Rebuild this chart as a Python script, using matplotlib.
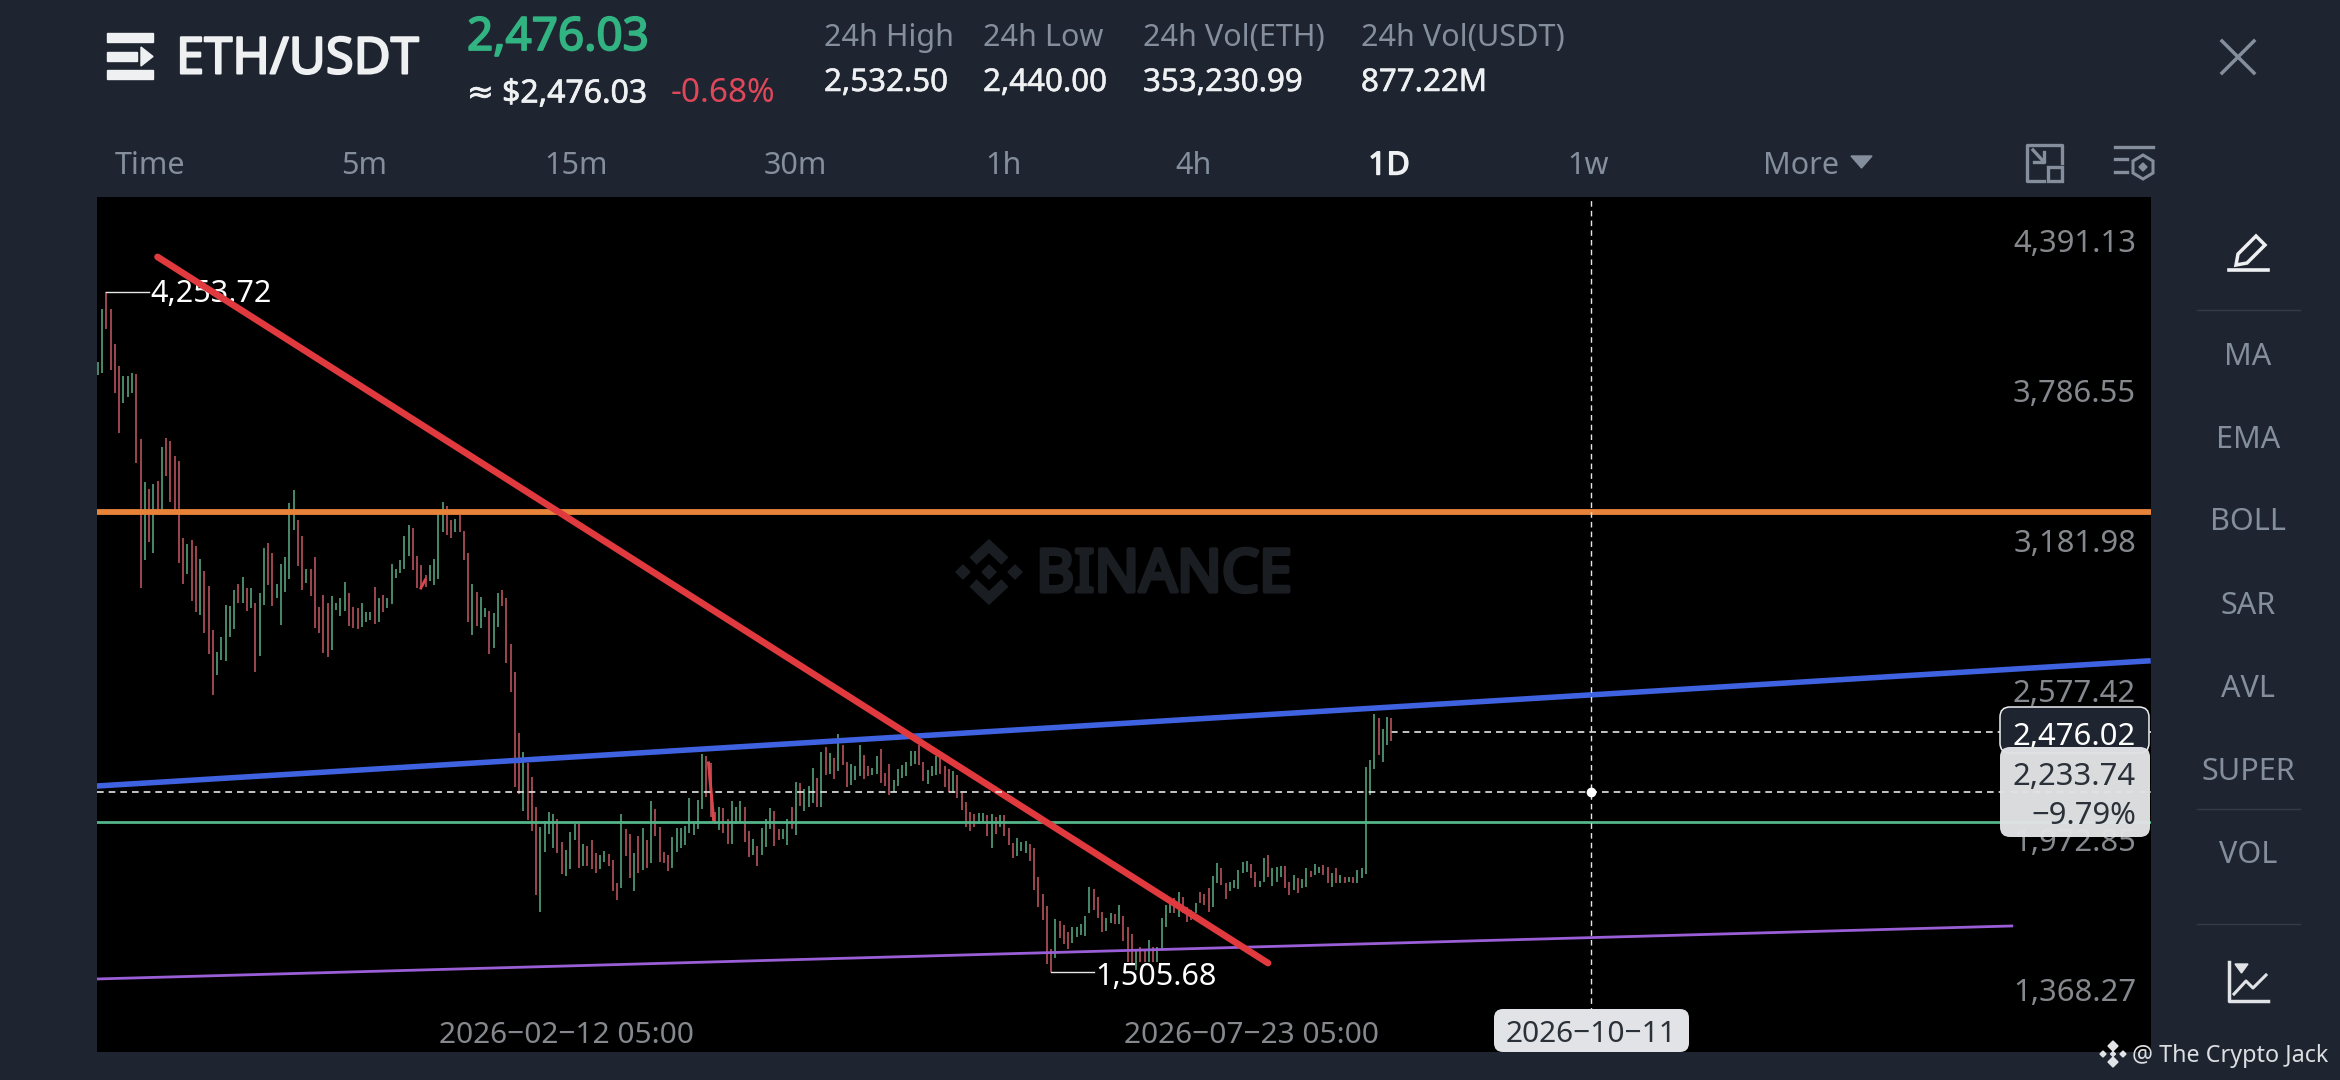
import datetime as dt
import numpy as np
import matplotlib
matplotlib.use("Agg")
import matplotlib.pyplot as plt
import matplotlib.dates as mdates
import matplotlib.patheffects as pe
from matplotlib.patches import FancyBboxPatch, Polygon, Rectangle

plt.rcParams['font.family'] = ['Noto Sans', 'DejaVu Sans']

# ---------- data ----------
first_bar_date = dt.datetime(2025, 10, 25, 5)
bar_high = [
 3971,4183,4253.72,4182,4041,3953,3913,3913,3924,3920,
 3657,3484,3459,3476,3490,3628,3661,3652,3591,3570,
 3258,3235,3251,3227,3173,3127,3065,2888,2800,2861,
 2988,2986,3049,3072,3100,3056,3056,2998,3036,3217,
 3240,3197,3072,3154,3184,3402,3453,3332,3268,3136,
 3136,3181,2982,3029,2998,3025,2995,3015,3083,3038,
 2982,2978,2998,2962,2962,3060,3015,3029,3015,3154,
 3136,3170,3267,3311,3298,3186,3150,3110,3150,3173,
 3359,3406,3388,3332,3334,3352,3287,3200,3072,3042,
 3022,2975,2966,2955,3038,3049,3015,2831,2717,
 2474,2396,2349,2295,2172,2094,2118,2153,2147,2123,
 2030,1999,2072,2104,2103,2022,2016,2040,1986,1979,
 1995,1982,1959,1868,2147,2083,2064,1986,2056,2090,
 2040,2199,2164,2094,1993,1979,2053,2087,2087,2096,
 2208,2107,2201,2386,2379,2349,2154,2174,2168,2123,
 2199,2174,2197,2172,2077,2045,2017,2087,2123,2168,
 2158,2083,2083,2123,2174,2273,2269,2244,2258,2329,
 2289,2396,2417,2390,2370,2466,2423,2356,2345,2339,
 2423,2383,2339,2329,2380,2406,2312,2345,2282,2325,
 2343,2356,2399,2400,2423,2353,2322,2339,2379,2372,
 2339,2325,2320,2302,2228,2195,2154,2147,2150,2150,
 2141,2147,2134,2141,
 2141,2087,2029,2047,2030,2036,2022,2006,1892,1822,
 1773,1600,1720,1714,1697,1667,1690,1690,1701,1733,
 1849,1841,1811,1750,1724,1744,1740,1777,1734,1690,
 1659,1602,1609,1596,1636,1609,1609,1724,1777,1795,
 1804,1831,1811,1771,1757,1784,1831,1824,1845,1896,
 1946,1928,1868,1869,1878,1919,1952,1955,1943,1909,
 1876,1968,1979,1929,1932,1936,1936,1872,1899,1888,
 1882,1925,1916,1943,1932,1940,1932,1905,1925,1899,
 1892,1892,1892,1919,1925,2336,2363,2548,2531,2487,
 2535,2532.5]
bar_low = [
 3917,3924,4101,3937,3846,3684,3803,3830,3843,3563,
 3058,3170,3244,3197,3372,3372,3509,3406,3372,3157,
 3073,3112,3006,2962,2948,2877,2791,2625,2706,2766,
 2764,2861,2890,2995,2995,2966,2978,2719,2783,2988,
 3069,2984,3015,2908,3042,3092,3291,3146,3049,3079,
 3025,2894,2877,2793,2777,2809,2968,2945,2966,2904,
 2894,2890,2898,2921,2928,2914,2921,2962,2975,2992,
 3096,3119,3136,3186,3130,3056,3052,3062,3087,3069,
 3092,3285,3271,3258,3285,3285,3170,2921,2867,2904,
 2894,2941,2789,2814,2901,2984,2756,2639,2252,
 2224,2158,2121,2076,1818,1748,1993,2064,2006,1989,
 1903,1896,1923,2040,1928,1935,1936,1921,1908,1921,
 1952,1935,1835,1798,1847,1977,1885,1834,1908,1919,
 1928,1946,2056,1950,1948,1915,1928,1990,2009,2018,
 2069,2060,2083,2165,2215,2134,2104,2080,2067,2024,
 2024,2104,2114,2033,1970,1979,1936,1979,2013,2083,
 2017,2040,2043,2020,2083,2060,2177,2158,2174,2188,
 2174,2174,2302,2306,2285,2318,2343,2252,2262,2282,
 2298,2285,2298,2302,2306,2269,2258,2221,2235,2258,
 2291,2298,2339,2347,2343,2279,2266,2298,2302,2305,
 2255,2235,2231,2208,2161,2091,2077,2094,2104,2107,
 2057,2009,2063,2094,
 2056,2020,1966,1975,1997,1989,1955,1838,1768,1717,
 1538,1505.68,1562,1643,1619,1598,1623,1647,1655,1652,
 1744,1757,1724,1670,1674,1703,1701,1701,1633,1549,
 1542,1515,1549,1549,1549,1549,1549,1596,1690,1744,
 1744,1730,1744,1710,1717,1744,1784,1777,1750,1771,
 1865,1858,1800,1835,1845,1841,1908,1912,1885,1849,
 1849,1872,1892,1854,1872,1892,1845,1818,1838,1827,
 1845,1849,1889,1899,1908,1899,1868,1851,1865,1865,
 1865,1872,1868,1868,1885,1903,2221,2325,2383,2356,
 2423,2440]
bar_dir = (
 "GGRRRRGGGR" "RGRGRGRRRR" "RGRRGRRRGG" "GGGRGRGRGG" "RRGGGGGRRG"
 "RRRRRGGGGR" "RRGGGRGRGG" "GGGGRRRRGG" "GGRRGRRRGR" "GGRGGRRRR"
 "RGRRRGGGGR" "RGGGRGRRRG" "GRRRGRRGRG" "RGRRRRGGGG" "GGGGRRRGRR"
 "GGGRRGRGGG" "RRGGRGRGGG" "RGRGRGRRGG" "GRRGGRRRGG" "GGGGRRGGGR"
 "RRGRRRRRGG" "RGRG"
 "RRRGGGRRRR" "RRGRRRGGGG" "GRRRGGRGRR" "RGRRGRGGGG" "RGRRRGRRRG"
 "GRRGGGGGRR" "GGRGGGRRGR" "GGRGGRRGRG" "RGRGGGGGRG" "GR")

price_ticks = [4391.13, 3786.55, 3181.98, 2577.42, 1972.85, 1368.27]
date_ticks = [dt.datetime(2026, 2, 12, 5), dt.datetime(2026, 7, 23, 5)]
crosshair_date = dt.datetime(2026, 10, 11, 5)
crosshair_price = 2233.74
last_price = 2476.02
orange_level = 3364
green_level = 2112.6

red_dates = [dt.datetime(2025, 11, 8, 5), dt.datetime(2026, 7, 27, 5)]
red_prices = [4394, 1543]
blue_dates = [dt.datetime(2025, 10, 25), dt.datetime(2027, 2, 19)]
blue_prices = [2258, 2763]
purple_dates = [dt.datetime(2025, 10, 25), dt.datetime(2027, 1, 18)]
purple_prices = [1479, 1693]
stroke1_idx, stroke1_prices = [143.5, 144.7], [2351, 2121]
stroke2_idx, stroke2_prices = [75.9, 76.9], [3057, 3090]

header_stats = [("24h High", "2,532.50", 824), ("24h Low", "2,440.00", 983),
                ("24h Vol(ETH)", "353,230.99", 1143), ("24h Vol(USDT)", "877.22M", 1361)]
timeframes = [("5m", 364), ("15m", 576), ("30m", 795), ("1h", 1003), ("4h", 1194), ("1w", 1588)]
indicators = [("MA", 354), ("EMA", 437), ("BOLL", 519), ("SAR", 603), ("AVL", 686), ("SUPER", 769), ("VOL", 852)]

# ---------- colours ----------
BG = "#1e2530"; GREY = "#848e9c"; AXGREY = "#85888d"; WHITE = "#eef0f2"
UP = "#5aa883"; DOWN = "#bf5660"; LIGHT = "#e1e3e6"; DARK = "#2b3139"

def heavy(color, w=0.7):
    return [pe.withStroke(linewidth=w, foreground=color)]

W, H = 2340, 1080
fig = plt.figure(figsize=(W / 100, H / 100), dpi=100, facecolor=BG)

# ---------- chart ----------
L, R, T, B = 97, 2151, 197, 1052
ax = fig.add_axes([L / W, 1 - B / H, (R - L) / W, (B - T) / H], facecolor="black")
for s in ax.spines.values():
    s.set_visible(False)
ax.set_xticks([]); ax.set_yticks([])

x0 = mdates.date2num(first_bar_date)
xs = x0 + np.arange(len(bar_high))
ref = mdates.date2num(date_ticks[0])
ax.set_xlim(ref + (L - 566) / 4.255, ref + (R - 566) / 4.255)
ax.set_ylim(2476.02 - (B - 732) * 4.037, 2476.02 + (732 - T) * 4.037)

colors = [UP if c == "G" else DOWN for c in bar_dir]
ax.vlines(xs, bar_low, bar_high, colors=colors, linewidth=1.15, zorder=3)

ax.plot(x0 + np.array(stroke1_idx), stroke1_prices, color="#d9474c", lw=2.2, zorder=4)
ax.plot(x0 + np.array(stroke2_idx), stroke2_prices, color="#d9474c", lw=2.0, zorder=4)

# callouts
hi_i, lo_i = int(np.argmax(bar_high)), int(np.argmin(bar_low))
ax.plot([xs[hi_i], xs[hi_i] + 9.9], [bar_high[hi_i]] * 2, color="#e6e6e6", lw=1, zorder=4)
ax.annotate("4,253.72", (xs[hi_i] + 9.9, bar_high[hi_i]), xytext=(1, -1.5), textcoords="offset points",
            color="white", fontsize=22, va="center", ha="left", zorder=4)
ax.plot([xs[lo_i], xs[lo_i] + 10.1], [bar_low[lo_i]] * 2, color="#e6e6e6", lw=1, zorder=4)
ax.annotate("1,505.68", (xs[lo_i] + 10.1, bar_low[lo_i]), xytext=(1, -3), textcoords="offset points",
            color="white", fontsize=22, va="center", ha="left", zorder=4)

# levels and trend lines
ax.axhline(green_level, color="#55b58a", lw=2.0, zorder=5)
ax.axhline(orange_level, color="#e8833a", lw=4.2, zorder=5)
ax.plot(mdates.date2num(purple_dates), purple_prices, color="#9a5fd6", lw=2.0, zorder=5)
ax.plot(mdates.date2num(blue_dates), blue_prices, color="#3f62e0", lw=4.0, zorder=5)
ax.plot(mdates.date2num(red_dates), red_prices, color="#e0393e", lw=4.8, zorder=6, solid_capstyle="round")

# crosshair / last price
cx = mdates.date2num(crosshair_date)
ax.axhline(crosshair_price, color="#e6e6e6", lw=1.2, ls=(0, (4, 3)), zorder=7)
ax.axvline(cx, color="#e6e6e6", lw=1.0, ls=(0, (4, 3)), zorder=7)
ax.plot([cx], [crosshair_price], "o", color="white", ms=6, zorder=8)
ax.plot([xs[-1], ax.get_xlim()[1]], [last_price] * 2, color="#e6e6e6", lw=1.2, ls=(0, (4, 3)), zorder=2)

# price axis labels sit just above their level
ytr = ax.get_yaxis_transform()
for p in price_ticks:
    ax.annotate(f"{p:,.2f}", (1, p), xycoords=ytr, xytext=(-10.8, 9.5), textcoords="offset points",
                color=AXGREY, fontsize=22.3, ha="right", va="center", zorder=9)
# date axis labels
xtr = ax.get_xaxis_transform()
for d in date_ticks:
    ax.annotate(d.strftime("%Y-%m-%d %H:%M").replace("-", "\u2212"), (mdates.date2num(d), 0), xycoords=xtr,
                xytext=(0, 12), textcoords="offset points", color=AXGREY, fontsize=21.5, ha="center", va="center", zorder=9)

# ---------- overlay in screen pixels ----------
ui = fig.add_axes([0, 0, 1, 1], facecolor="none", zorder=10)
ui.set_xlim(0, W); ui.set_ylim(H, 0); ui.axis("off")

def txt(x, y, s, c=GREY, fs=21, ha="left", **kw):
    ui.text(x, y, s, color=c, fontsize=fs, ha=ha, va="center", **kw)

def diamond(cx_, cy_, r, color, z):
    ui.add_patch(Polygon([(cx_ - r, cy_), (cx_, cy_ - r), (cx_ + r, cy_), (cx_, cy_ + r)], color=color, zorder=z))

# watermark
WM = "#1a1d22"
for cx_, cy_, r in [(989, 572, 7), (963, 572, 7), (1015, 572, 7)]:
    diamond(cx_, cy_, r, WM, 0.5)
ui.plot([973, 989, 1005], [561, 546, 561], color=WM, lw=7.5, solid_joinstyle="miter", solid_capstyle="butt", zorder=0.5)
ui.plot([973, 989, 1005], [583, 598, 583], color=WM, lw=7.5, solid_joinstyle="miter", solid_capstyle="butt", zorder=0.5)
txt(1036, 576, "BINANCE", WM, 42.5, zorder=0.5, path_effects=heavy(WM, 3.0))

# header
for y0, y1 in [(33, 42), (70, 79)]:
    ui.add_patch(Rectangle((107, y0), 46, y1 - y0, color=WHITE))
ui.add_patch(Rectangle((107, 52), 30, 9, color=WHITE))
ui.add_patch(Polygon([(141, 47), (153, 56.5), (141, 66)], color=WHITE))
txt(176, 60, "ETH/USDT", WHITE, 36.5, path_effects=heavy(WHITE, 1.5))
txt(467, 38, "2,476.03", "#32b482", 33, path_effects=heavy("#32b482", 1.3))
txt(467, 94, "\u2248 $2,476.03", WHITE, 23, path_effects=heavy(WHITE, 0.5))
txt(671, 94, "-0.68%", "#e0475a", 24)
for name, val, x in header_stats:
    txt(x, 38, name, GREY, 22)
    txt(x, 83, val, WHITE, 22.5, path_effects=heavy(WHITE, 0.4))
ui.plot([2222, 2254], [41, 73], color=GREY, lw=2.5)
ui.plot([2222, 2254], [73, 41], color=GREY, lw=2.5)

# timeframe row
txt(115, 166, "Time", GREY, 22)
for name, x in timeframes:
    txt(x, 166, name, GREY, 22, ha="center")
txt(1389, 166, "1D", WHITE, 23, ha="center", path_effects=heavy(WHITE, 1.0))
txt(1801, 166, "More", GREY, 22, ha="center")
ui.add_patch(Polygon([(1851, 156), (1872, 156), (1861.5, 168)], color=GREY))

# chart-size icon
ui.plot([2062, 2062, 2027, 2027, 2044], [163, 145, 145, 181, 181], color=GREY, lw=2.4)
ui.add_patch(Rectangle((2048, 167), 14, 14, fc="none", ec=GREY, lw=2.4))
ui.plot([2033, 2044], [150, 162], color=GREY, lw=2.4)
ui.plot([2034, 2044, 2044], [162, 162, 152], color=GREY, lw=2.4)
# settings icon
ui.plot([2115, 2153], [147, 147], color=GREY, lw=2.4)
for y in [159, 172]:
    ui.plot([2115, 2127], [y, y], color=GREY, lw=2.4)
ui.add_patch(Polygon([(2143, 155), (2153, 161), (2153, 173), (2143, 179), (2133, 173), (2133, 161)],
                     fc="none", ec=GREY, lw=2.2))
diamond(2143, 167, 4, GREY, 3)

# side panel
ui.add_patch(Polygon([(2236, 265), (2238, 254), (2256, 236), (2265, 245), (2247, 263)], fc="none", ec=WHITE, lw=2.5))
ui.plot([2229, 2268], [270, 270], color=WHITE, lw=2.6)
for y in [310, 809, 924]:
    ui.plot([2197, 2300], [y, y], color="#343b46", lw=1)
for name, y in indicators:
    txt(2248, y + 3, name, GREY, 22, ha="center")
ui.plot([2229, 2229, 2268], [962, 1001, 1001], color=LIGHT, lw=2.5)
ui.plot([2234, 2246, 2253, 2266], [994, 981, 988, 975], color=LIGHT, lw=2.2)
ui.add_patch(Polygon([(2235, 964), (2248, 964), (2241.5, 973)], color=LIGHT))

# value boxes
ui.add_patch(FancyBboxPatch((2000, 707), 149, 46, boxstyle="round,pad=0,rounding_size=10", fc=BG, ec=WHITE, lw=1.1, zorder=3))
txt(2136, 737, f"{last_price:,.2f}", "white", 22.3, ha="right", zorder=4)
ui.add_patch(FancyBboxPatch((2000, 747), 150, 90, boxstyle="round,pad=0,rounding_size=10", fc=LIGHT, ec="none", alpha=0.97, zorder=5))
txt(2136, 777, f"{crosshair_price:,.2f}", DARK, 22.3, ha="right", zorder=6)
txt(2136, 816, "\u22129.79%", DARK, 22.3, ha="right", zorder=6)
ui.add_patch(FancyBboxPatch((1494, 1009), 195, 43, boxstyle="round,pad=0,rounding_size=9", fc=LIGHT, ec="none", zorder=5))
txt(1591.5, 1034, crosshair_date.strftime("%Y-%m-%d").replace("-", "\u2212"), DARK, 21.5, ha="center", zorder=6)

# attribution
for cx_, cy_, r in [(2113, 1046, 5), (2103, 1054, 3), (2123, 1054, 3), (2113, 1062, 5), (2113, 1054, 2.5)]:
    diamond(cx_, cy_, r, LIGHT, 6)
txt(2132, 1056, "@ The Crypto Jack", "#dcdee2", 16.8, zorder=6)

fig.savefig("out.png", dpi=100, facecolor=BG)
